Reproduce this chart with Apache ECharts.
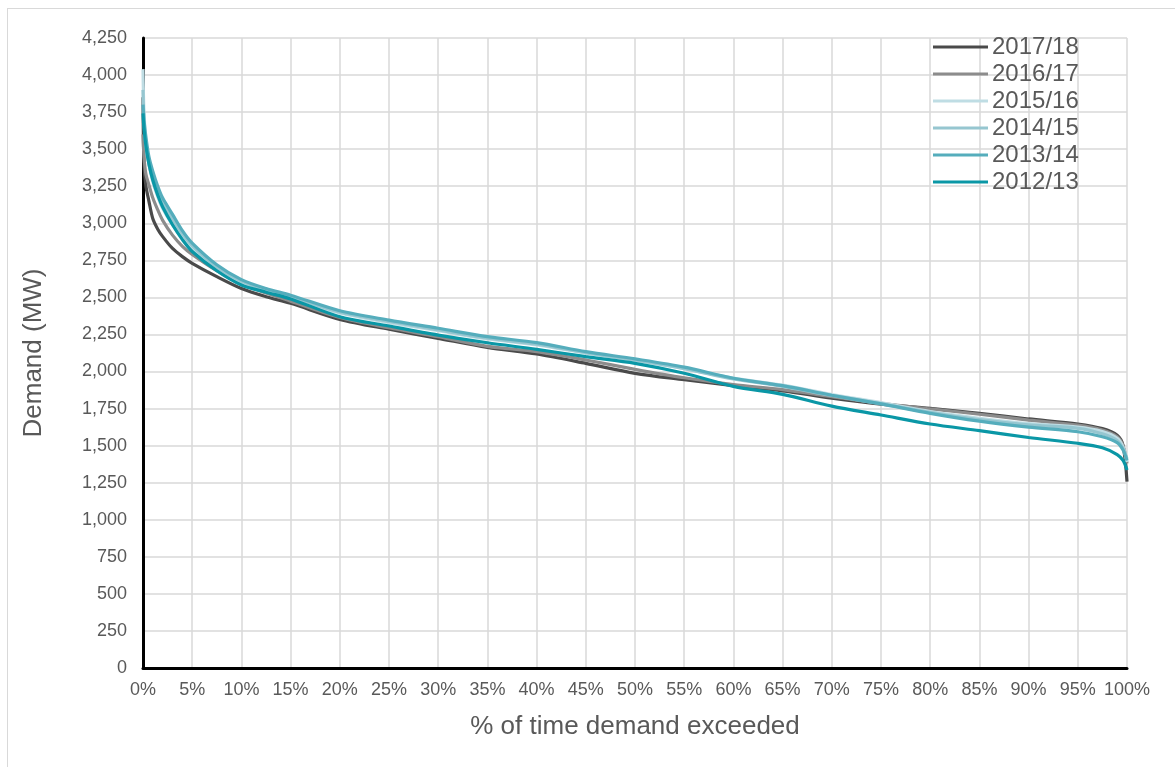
<!DOCTYPE html>
<html>
<head>
<meta charset="utf-8">
<script src="https://cdn.jsdelivr.net/npm/echarts@6/dist/echarts.min.js"></script>
<style>
html,body{margin:0;padding:0;background:#fff;}
#frame{position:absolute;left:7px;top:8px;width:1180px;height:780px;border:1px solid #d9d9d9;box-sizing:border-box;}
#chart{position:absolute;left:0;top:0;width:1175px;height:767px;}
</style>
</head>
<body>
<div id="frame"></div>
<div id="chart"></div>
<script>
// % of time demand exceeded (x positions of the sampled points)
const xPct = [0, 0.1, 0.3, 0.6, 1, 1.5, 2, 3, 4, 5, 7.5, 10, 12.5, 15, 20, 25, 30, 35, 40, 45, 50, 55, 60, 65, 70, 75, 80, 85, 90, 95, 97.5, 99, 99.6, 100];

const seriesNames = ['2017/18', '2016/17', '2015/16', '2014/15', '2013/14', '2012/13'];

// Demand (MW)
const d2017 = [3850, 3400, 3250, 3150, 3030, 2960, 2910, 2830, 2775, 2730, 2640, 2560, 2505, 2460, 2352, 2285, 2224, 2163, 2118, 2055, 1988, 1945, 1905, 1870, 1820, 1780, 1752, 1718, 1680, 1646, 1615, 1570, 1500, 1257];
const d2016 = [3600, 3450, 3330, 3260, 3170, 3090, 3020, 2920, 2845, 2790, 2680, 2590, 2530, 2475, 2365, 2295, 2235, 2170, 2134, 2078, 2015, 1958, 1912, 1878, 1830, 1785, 1748, 1712, 1672, 1638, 1605, 1560, 1500, 1380];
const d2015 = [4040, 3750, 3550, 3400, 3280, 3180, 3100, 2990, 2900, 2830, 2700, 2600, 2545, 2495, 2395, 2330, 2275, 2220, 2180, 2125, 2075, 2020, 1955, 1908, 1845, 1790, 1730, 1685, 1648, 1625, 1595, 1550, 1490, 1390];
const d2014 = [3900, 3680, 3520, 3400, 3300, 3200, 3130, 3030, 2930, 2850, 2705, 2610, 2550, 2505, 2400, 2338, 2280, 2225, 2185, 2128, 2078, 2020, 1950, 1900, 1838, 1783, 1725, 1675, 1640, 1617, 1580, 1535, 1480, 1410];
const d2013 = [3800, 3700, 3580, 3450, 3350, 3250, 3170, 3060, 2950, 2866, 2720, 2620, 2560, 2515, 2410, 2347, 2292, 2235, 2195, 2134, 2085, 2030, 1955, 1905, 1840, 1782, 1718, 1665, 1625, 1594, 1560, 1520, 1470, 1400];
const d2012 = [3742, 3640, 3520, 3400, 3290, 3190, 3110, 2990, 2890, 2810, 2680, 2584, 2535, 2490, 2370, 2307, 2246, 2194, 2150, 2100, 2055, 1988, 1900, 1846, 1767, 1707, 1646, 1601, 1555, 1516, 1486, 1440, 1400, 1336];

const seriesValues = [d2017, d2016, d2015, d2014, d2013, d2012];
const colors = ['#4a4a4a', '#8c8c8c', '#bfdde4', '#96c6d0', '#55adbc', '#0a97a6'];

const chart = echarts.init(document.getElementById('chart'));
const FONT = 'Liberation Sans, Arial, sans-serif';
const TXT = '#595959';

chart.setOption({
  animation: false,
  color: colors,
  grid: { left: 143, right: 48, top: 38, bottom: 99, containLabel: false },
  legend: {
    orient: 'vertical',
    left: 933,
    top: 35,
    padding: 0,
    icon: 'rect',
    itemWidth: 55,
    itemHeight: 3,
    itemGap: 3,
    textStyle: { color: TXT, fontSize: 24, fontFamily: FONT, lineHeight: 24, padding: [0, 0, 0, -1] },
    data: seriesNames
  },
  xAxis: {
    type: 'value',
    min: 0, max: 100, interval: 5,
    name: '% of time demand exceeded',
    nameLocation: 'middle',
    nameGap: 46,
    nameTextStyle: { color: TXT, fontSize: 26, fontFamily: FONT },
    axisLine: { show: true, onZero: false, lineStyle: { color: '#000', width: 3 } },
    axisTick: { show: false },
    axisLabel: { color: TXT, fontSize: 18, fontFamily: FONT, margin: 13, formatter: '{value}%' },
    splitLine: { show: true, lineStyle: { color: '#d9d9d9', width: 1.5 } }
  },
  yAxis: {
    type: 'value',
    min: 0, max: 4250, interval: 250,
    name: 'Demand (MW)',
    nameLocation: 'middle',
    nameGap: 96,
    nameTextStyle: { color: TXT, fontSize: 26, fontFamily: FONT },
    axisLine: { show: true, lineStyle: { color: '#000', width: 3 } },
    axisTick: { show: false },
    axisLabel: {
      color: TXT, fontSize: 18, fontFamily: FONT, margin: 16,
      formatter: v => v.toLocaleString('en-US')
    },
    splitLine: { show: true, lineStyle: { color: '#d9d9d9', width: 1.5 } }
  },
  series: seriesNames.map((name, i) => ({
    name: name,
    type: 'line',
    showSymbol: false,
    symbol: 'none',
    smooth: 0.3,
    lineStyle: { width: 3.2, color: colors[i] },
    itemStyle: { color: colors[i] },
    data: xPct.map((x, j) => [x, seriesValues[i][j]])
  }))
});
</script>
</body>
</html>
